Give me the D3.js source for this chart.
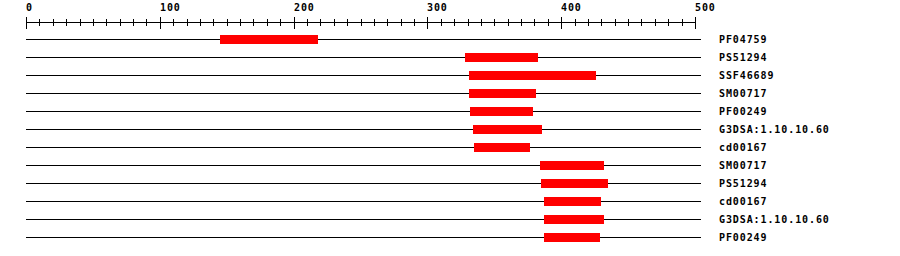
<!DOCTYPE html>
<html>
<head>
<meta charset="utf-8">
<script src="https://cdn.jsdelivr.net/npm/d3@7"></script>
<style>
  body { margin: 0; background: #fff; }
  text { font-family: "DejaVu Sans Mono", monospace; font-weight: bold; font-size: 10px; letter-spacing: 0.9px; fill: #000; }
</style>
</head>
<body>
<div id="chart"></div>
<script>
// Domain hits (protein positions)
const labels = ["PF04759", "PS51294", "SSF46689", "SM00717", "PF00249", "G3DSA:1.10.10.60",
  "cd00167", "SM00717", "PS51294", "cd00167", "G3DSA:1.10.10.60", "PF00249"];
const starts = [145, 328, 331, 331, 332, 334, 335, 384, 385, 387, 387, 387];
const ends   = [218, 383, 426, 381, 379, 386, 377, 432, 435, 430, 432, 429];
const axisTicks = [0, 100, 200, 300, 400, 500];

const width = 900, height = 256;
const axisY = 22;

const x = d3.scaleLinear().domain([0, 500]).range([26, 695]);
const y = d3.scalePoint().domain(d3.range(labels.length)).range([39, 237]);

const svg = d3.select("#chart").append("svg")
  .attr("width", width)
  .attr("height", height)
  .attr("shape-rendering", "crispEdges");

// Axis
const axis = svg.append("g");
axis.append("line")
  .attr("x1", x(0)).attr("x2", x(500) + 1)
  .attr("y1", axisY + 0.5).attr("y2", axisY + 0.5)
  .attr("stroke", "#000");

axis.selectAll(".minor")
  .data(d3.range(0, 501, 10))
  .enter().append("line")
    .attr("x1", d => Math.round(x(d)) + 0.5).attr("x2", d => Math.round(x(d)) + 0.5)
    .attr("y1", d => d % 100 === 0 ? axisY - 5 : axisY - 3)
    .attr("y2", d => d % 100 === 0 ? axisY + 7 : axisY + 4)
    .attr("stroke", "#000");

axis.selectAll(".tick-label")
  .data(axisTicks)
  .enter().append("text")
    .attr("x", d => Math.round(x(d)))
    .attr("y", 11)
    .text(d => d);

// Tracks
const rows = svg.selectAll(".row")
  .data(labels)
  .enter().append("g")
    .attr("class", "row");

rows.append("line")
  .attr("x1", x(0)).attr("x2", x(500) + 6)
  .attr("y1", (d, i) => y(i) + 0.5).attr("y2", (d, i) => y(i) + 0.5)
  .attr("stroke", "#000");

rows.append("rect")
  .attr("x", (d, i) => Math.round(x(starts[i])))
  .attr("y", (d, i) => y(i) - 4)
  .attr("width", (d, i) => Math.round(x(ends[i])) - Math.round(x(starts[i])))
  .attr("height", 9)
  .attr("fill", "#ff0000");

rows.append("text")
  .attr("x", x(500) + 24)
  .attr("y", (d, i) => y(i) + 4)
  .text(d => d);
</script>
</body>
</html>
